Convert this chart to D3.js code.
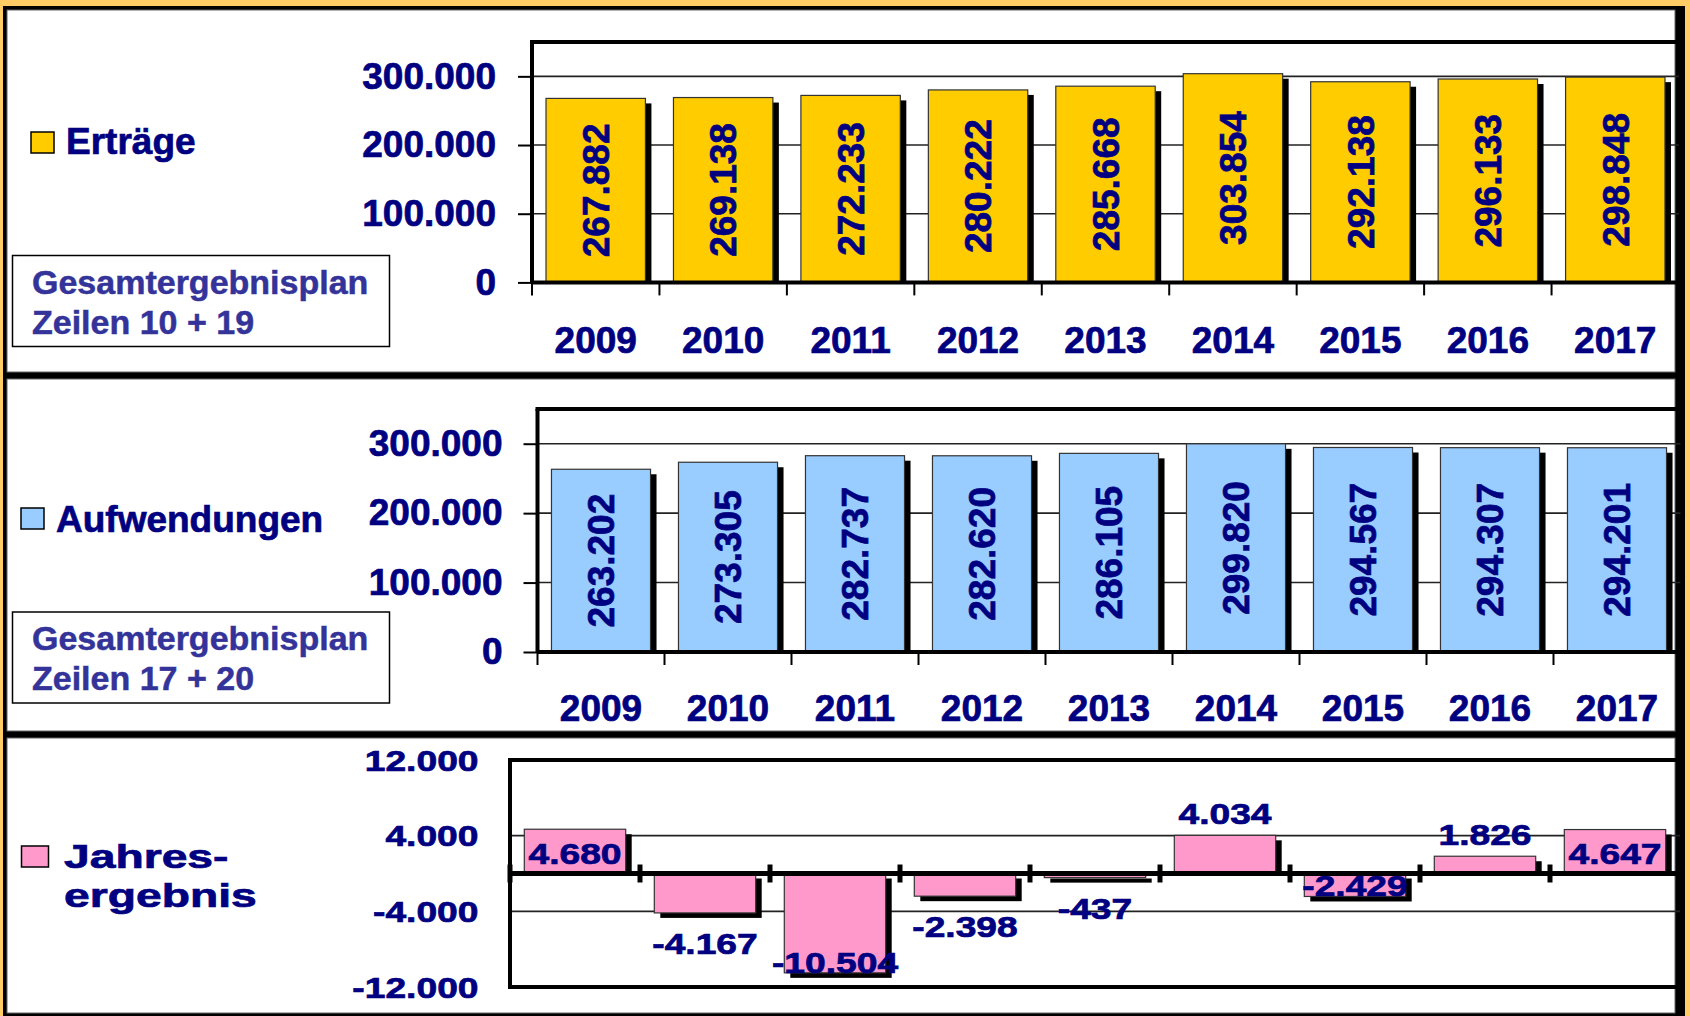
<!DOCTYPE html>
<html>
<head>
<meta charset="utf-8">
<script src="https://cdn.jsdelivr.net/npm/d3@7"></script>
<style>
  html, body { margin: 0; padding: 0; background: #FFCC66; }
  svg { display: block; }
  text { font-family: "Liberation Sans", Arial, sans-serif; font-weight: bold; }
  text.heavy { stroke: #000080; stroke-width: 0.7px; }
</style>
</head>
<body>
<svg id="chart" width="1690" height="1016"></svg>
<script>
// ---- data ----
const years = ["2009", "2010", "2011", "2012", "2013", "2014", "2015", "2016", "2017"];
const ertraege = [267882, 269138, 272233, 280222, 285668, 303854, 292138, 296133, 298848];
const aufwendungen = [263202, 273305, 282737, 282620, 286105, 299820, 294567, 294307, 294201];
const jahresergebnis = [4680, -4167, -10504, -2398, -437, 4034, -2429, 1826, 4647];
// where each result label sits relative to its bar
const jahresLabelPlacement = ["base", "outside", "end", "outside", "outside", "outside", "end", "outside", "base"];
const amountTicks = [0, 100000, 200000, 300000];
const resultTicks = [-12000, -4000, 4000, 12000];

// ---- setup ----
const W = 1690, H = 1016;
const svg = d3.select("#chart");
const navy = "#000080";
const boxBlue = "#333399";
const fmt = d3.formatLocale({
  decimal: ",", thousands: ".", grouping: [3], currency: ["", " €"], minus: "-"
}).format(",d");

// outer frame and the three white panels
svg.append("rect").attr("width", W).attr("height", H).attr("fill", "#FFCC66");
svg.append("rect").attr("x", 3).attr("y", 6).attr("width", 1682).attr("height", 1010).attr("fill", "#000");
[[7, 10, 1668, 362], [7, 379, 1668, 352], [7, 738, 1668, 275]].forEach(p => {
  svg.append("rect").attr("x", p[0]).attr("y", p[1]).attr("width", p[2]).attr("height", p[3])
    .attr("fill", "#fff").attr("stroke", "#666").attr("stroke-width", 1);
});

function legend(x, y, w, h, fill) {
  svg.append("rect").attr("x", x).attr("y", y).attr("width", w).attr("height", h)
    .attr("fill", fill).attr("stroke", "#000").attr("stroke-width", 1.5);
}

function sourceBox(y0, lines) {
  svg.append("rect").attr("x", 12.5).attr("y", y0).attr("width", 377).attr("height", 91)
    .attr("fill", "#fff").attr("stroke", "#000").attr("stroke-width", 1.5);
  lines.forEach((t, i) => {
    svg.append("text").attr("x", 32).attr("y", y0 + 38 + i * 40).attr("fill", boxBlue)
      .style("stroke", boxBlue).style("stroke-width", "0.5px")
      .style("font-size", "34px").text(t);
  });
}

// ---- top two panels: yearly amounts ----
function amountPanel(o) {
  const g = svg.append("g");
  const x = d3.scaleBand().domain(years).range([o.left, o.right]).paddingInner(0.22).paddingOuter(0.11);
  const y = d3.scaleLinear().domain([0, 350000]).range([o.bottom, o.top]);

  g.selectAll("line.grid").data(amountTicks.filter(d => d > 0)).join("line")
    .attr("class", "grid")
    .attr("x1", o.left).attr("x2", o.right)
    .attr("y1", d => y(d)).attr("y2", d => y(d))
    .attr("stroke", "#222").attr("stroke-width", 1.6);

  g.selectAll("rect.shadow").data(o.values).join("rect")
    .attr("class", "shadow")
    .attr("x", (d, i) => x(years[i]) + 6)
    .attr("y", d => y(d) + 5)
    .attr("width", x.bandwidth())
    .attr("height", d => y(0) - y(d) - 5)
    .attr("fill", "#000");

  g.selectAll("rect.bar").data(o.values).join("rect")
    .attr("class", "bar")
    .attr("x", (d, i) => x(years[i]))
    .attr("y", d => y(d))
    .attr("width", x.bandwidth())
    .attr("height", d => y(0) - y(d))
    .attr("fill", o.fill).attr("stroke", "#333").attr("stroke-width", 1.2);

  // plot frame and baseline
  g.append("line").attr("x1", o.left - 2).attr("x2", o.right).attr("y1", o.top).attr("y2", o.top)
    .attr("stroke", "#000").attr("stroke-width", 4);
  g.append("line").attr("x1", o.left).attr("x2", o.left).attr("y1", o.top).attr("y2", o.bottom)
    .attr("stroke", "#000").attr("stroke-width", 4);
  g.append("line").attr("x1", o.left).attr("x2", o.right).attr("y1", y(0)).attr("y2", y(0))
    .attr("stroke", "#000").attr("stroke-width", 4);

  // value axis
  const ax = g.append("g").attr("transform", `translate(${o.left},0)`)
    .call(d3.axisLeft(y).tickValues(amountTicks).tickSize(14).tickPadding(o.pad).tickFormat(fmt));
  ax.select(".domain").remove();
  ax.selectAll(".tick line").attr("stroke", "#000").attr("stroke-width", 2);
  ax.selectAll(".tick text").attr("fill", navy).attr("class", "heavy")
    .style("font-size", "37px").style("font-family", '"Liberation Sans", Arial, sans-serif').style("font-weight", "bold");

  // category boundary ticks
  g.selectAll("line.cat").data(years).join("line")
    .attr("class", "cat")
    .attr("x1", (d, i) => o.left + i * x.step()).attr("x2", (d, i) => o.left + i * x.step())
    .attr("y1", y(0)).attr("y2", y(0) + 13)
    .attr("stroke", "#000").attr("stroke-width", 2);

  // year labels
  g.selectAll("text.year").data(years).join("text")
    .attr("class", "year heavy")
    .attr("x", d => x(d) + x.bandwidth() / 2).attr("y", o.yearBase)
    .attr("text-anchor", "middle").attr("fill", navy).style("font-size", "37px")
    .text(d => d);

  // values inside the bars, rotated
  g.selectAll("text.val").data(o.values).join("text")
    .attr("class", "val heavy")
    .attr("transform", (d, i) => `translate(${x(years[i]) + x.bandwidth() / 2},${(y(d) + y(0)) / 2}) rotate(-90)`)
    .attr("text-anchor", "middle").attr("dy", "0.36em")
    .attr("fill", navy).style("font-size", "37px")
    .text(d => fmt(d));
}

amountPanel({ values: ertraege, fill: "#FFCC00", left: 532, right: 1679, top: 42, bottom: 282.4, pad: 22, yearBase: 353 });
legend(31, 132, 23, 21, "#FFCC00");
svg.append("text").attr("class", "heavy").attr("x", 66).attr("y", 154).attr("fill", navy).style("font-size", "37px").text("Erträge");
sourceBox(255.5, ["Gesamtergebnisplan", "Zeilen 10 + 19"]);

amountPanel({ values: aufwendungen, fill: "#99CCFF", left: 537.5, right: 1680.5, top: 409, bottom: 652, pad: 21, yearBase: 721 });
legend(21, 508, 23, 21, "#99CCFF");
svg.append("text").attr("class", "heavy").attr("x", 56).attr("y", 532).attr("fill", navy).style("font-size", "37px").text("Aufwendungen");
sourceBox(612, ["Gesamtergebnisplan", "Zeilen 17 + 20"]);

// ---- bottom panel: annual result ----
(function resultPanel() {
  const left = 510, right = 1680, top = 760, bottom = 987;
  const sx = 1.24; // wide lettering of this panel
  const g = svg.append("g");
  const x = d3.scaleBand().domain(years).range([left, right]).paddingInner(0.22).paddingOuter(0.11);
  const y = d3.scaleLinear().domain([-12000, 12000]).range([bottom, top]);

  g.selectAll("line.grid").data(resultTicks.filter(d => Math.abs(d) < 12000)).join("line")
    .attr("class", "grid")
    .attr("x1", left).attr("x2", right)
    .attr("y1", d => y(d)).attr("y2", d => y(d))
    .attr("stroke", "#222").attr("stroke-width", 1.6);

  g.selectAll("rect.shadow").data(jahresergebnis).join("rect")
    .attr("class", "shadow")
    .attr("x", (d, i) => x(years[i]) + 6)
    .attr("y", d => d >= 0 ? y(d) + 5 : y(0) + 5)
    .attr("width", x.bandwidth())
    .attr("height", d => d >= 0 ? y(0) - y(d) - 5 : y(d) - y(0))
    .attr("fill", "#000");

  g.selectAll("rect.bar").data(jahresergebnis).join("rect")
    .attr("class", "bar")
    .attr("x", (d, i) => x(years[i]))
    .attr("y", d => Math.min(y(d), y(0)))
    .attr("width", x.bandwidth())
    .attr("height", d => Math.abs(y(d) - y(0)))
    .attr("fill", "#FF99CC").attr("stroke", "#333").attr("stroke-width", 1.2);

  // frame
  [[left - 2, top, right, top], [left - 2, bottom, right, bottom], [left, top, left, bottom]].forEach(l => {
    g.append("line").attr("x1", l[0]).attr("y1", l[1]).attr("x2", l[2]).attr("y2", l[3])
      .attr("stroke", "#000").attr("stroke-width", 4);
  });
  // zero line with category ticks
  g.append("line").attr("x1", left).attr("x2", right).attr("y1", y(0)).attr("y2", y(0))
    .attr("stroke", "#000").attr("stroke-width", 5);
  g.selectAll("line.cat").data(years).join("line")
    .attr("class", "cat")
    .attr("x1", (d, i) => left + i * x.step()).attr("x2", (d, i) => left + i * x.step())
    .attr("y1", y(0) - 9).attr("y2", y(0) + 9)
    .attr("stroke", "#000").attr("stroke-width", 5);

  function wideText(px, py, anchor, size, str) {
    return g.append("text").attr("class", "heavy")
      .attr("transform", `translate(${px},${py}) scale(${sx},1)`)
      .attr("text-anchor", anchor).attr("fill", navy).style("font-size", size + "px")
      .text(str);
  }

  // value axis labels
  resultTicks.forEach(t => wideText(478.5, y(t) + 10.5, "end", 30, fmt(t)));

  // bar labels
  jahresergebnis.forEach((v, i) => {
    const p = jahresLabelPlacement[i];
    let base;
    if (p === "outside") base = v >= 0 ? y(v) - 11 : y(v) + 41;
    else if (p === "end") base = v >= 0 ? y(v) + 23 : y(v);
    else base = v >= 0 ? y(0) - 10 : y(0) + 25;
    wideText(x(years[i]) + x.bandwidth() / 2, base, "middle", 30, fmt(v));
  });

  // legend
  legend(21.5, 846, 27, 21, "#FF99CC");
  [["Jahres-", 868], ["ergebnis", 907]].forEach(l => {
    svg.append("text").attr("class", "heavy").attr("transform", `translate(64,${l[1]}) scale(1.36,1)`)
      .attr("fill", navy).style("font-size", "34px").text(l[0]);
  });
})();
</script>
</body>
</html>
